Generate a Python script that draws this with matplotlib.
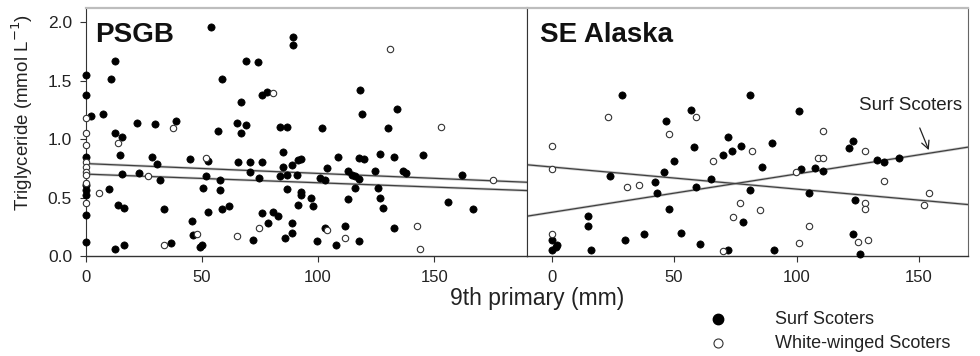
import matplotlib
matplotlib.use("Agg")
import matplotlib.pyplot as plt
from matplotlib.lines import Line2D
import numpy as np

plt.rcParams['font.family'] = ['Liberation Sans', 'DejaVu Sans']

# ---------------- data ----------------
# PSGB panel
psgb_surf_x = [0, 0, 0, 0, 0, 0, 0, 0,
               2, 7.4, 10.7, 12.5, 12.5, 15.4, 14.7, 15.4, 10, 13.6, 16.5, 12.5, 16.5,
               22, 29.7, 38.8, 23, 28.6, 30.7, 32, 33.7, 36.5,
               44.8, 52.6, 51.7, 50.4, 57.8, 57.8, 52.6, 58.7, 61.6, 45.6, 46, 49, 50,
               54, 58.7, 57, 65, 69, 66.7, 66.7, 69, 74, 76, 78,
               65.5, 70.7, 70.7, 75.8, 74.6, 75.8, 72, 78.4, 80.6, 82.8,
               83.6, 86.5, 89, 89,
               85, 85, 83.6, 86.6, 90.9, 88.8, 91.4, 92.7, 86.6, 92.7, 92.7, 91.4, 88.8, 88.8, 85.8,
               101.7, 118, 119, 134, 130,
               108.6, 117.7, 119.8, 126.7, 132.8, 145, 103.8, 112.9, 114.6, 116, 117.7, 124.6,
               136.6, 138, 100.9, 103, 162,
               97, 98, 116, 125.9, 112.9, 126.7, 128, 156, 166.8, 103, 111.6, 99.6, 107.8, 117.7, 132.8]
psgb_surf_y = [1.55, 1.38, 0.85, 0.61, 0.56, 0.52, 0.35, 0.12,
               1.20, 1.21, 1.51, 1.67, 1.05, 1.02, 0.86, 0.70, 0.57, 0.44, 0.41, 0.06, 0.09,
               1.14, 1.13, 1.15, 0.71, 0.85, 0.79, 0.65, 0.40, 0.11,
               0.83, 0.81, 0.68, 0.58, 0.65, 0.56, 0.38, 0.40, 0.43, 0.30, 0.18, 0.08, 0.09,
               1.96, 1.51, 1.07, 1.14, 1.12, 1.05, 1.32, 1.67, 1.66, 1.38, 1.40,
               0.80, 0.80, 0.72, 0.80, 0.67, 0.37, 0.14, 0.28, 0.38, 0.34,
               1.10, 1.10, 1.87, 1.80,
               0.89, 0.76, 0.68, 0.69, 0.69, 0.78, 0.82, 0.83, 0.57, 0.55, 0.52, 0.44, 0.28, 0.20, 0.15,
               1.09, 1.42, 1.21, 1.26, 1.09,
               0.85, 0.84, 0.83, 0.87, 0.85, 0.86, 0.75, 0.73, 0.69, 0.68, 0.66, 0.73,
               0.73, 0.71, 0.67, 0.65, 0.69,
               0.50, 0.43, 0.58, 0.58, 0.49, 0.50, 0.41, 0.46, 0.40, 0.24, 0.26, 0.13, 0.09, 0.13, 0.24]

psgb_ww_x = [0, 0, 0, 0, 0, 0, 0, 0, 0,
             5.6, 13.6, 26.7, 33.7, 37.5, 51.7, 47.8, 65, 74.6, 80.7,
             103.8, 111.6, 131, 142.7, 144, 153, 175.4]
psgb_ww_y = [1.18, 1.05, 0.95, 0.80, 0.76, 0.72, 0.69, 0.62, 0.45,
             0.54, 0.97, 0.68, 0.09, 1.09, 0.84, 0.19, 0.17, 0.24, 1.39,
             0.22, 0.15, 1.77, 0.26, 0.06, 1.10, 0.65]

# SE Alaska panel
sea_surf_x = [28.9, 81.1, 101, 57, 46.9, 72, 77.2, 73.8, 70, 58.2, 90, 50, 45.9, 85.9,
              24, 65, 42.1, 59.1, 43.1, 81.1, 105, 48, 78.1, 15, 15, 29.9, 37.8, 52.7,
              60.7, 72, 90.8, 16, 0, 0, 1.8, 2.3, 101.9, 107.7, 110.7, 121.6, 123,
              132.9, 135.9, 142, 124, 123, 126]
sea_surf_y = [1.38, 1.38, 1.24, 1.25, 1.15, 1.02, 0.94, 0.90, 0.86, 0.93, 0.97, 0.81, 0.72, 0.76,
              0.68, 0.66, 0.63, 0.59, 0.54, 0.56, 0.54, 0.40, 0.29, 0.34, 0.26, 0.14, 0.19, 0.20,
              0.10, 0.05, 0.05, 0.05, 0.14, 0.05, 0.08, 0.09, 0.74, 0.75, 0.73, 0.92, 0.98,
              0.82, 0.80, 0.84, 0.48, 0.19, 0.02]

sea_ww_x = [0, 0, 0, 23.1, 59.1, 48, 30.8, 35.7, 65.9, 81.9, 77, 84.9, 74, 70,
            99.9, 108.7, 110.7, 110.7, 105, 101, 128, 135.9, 128, 128, 125, 129, 152, 154]
sea_ww_y = [0.94, 0.74, 0.19, 1.19, 1.19, 1.04, 0.59, 0.61, 0.81, 0.90, 0.45, 0.39, 0.33, 0.04,
            0.72, 0.84, 0.84, 1.07, 0.26, 0.11, 0.90, 0.64, 0.45, 0.40, 0.12, 0.14, 0.44, 0.54]

# regression lines: (intercept, slope)
psgb_fits = [(0.79, -0.00084), (0.70, -0.00074)]
sea_surf_fit = (0.373, 0.00328)
sea_ww_fit = (0.761, -0.00189)

panel_titles = ["PSGB", "SE Alaska"]
x_ticks = [0, 50, 100, 150]
y_ticks = [0.0, 0.5, 1.0, 1.5, 2.0]
legend_labels = ["Surf Scoters", "White-winged Scoters"]

# ---------------- figure ----------------
W, H = 980, 356
fig = plt.figure(figsize=(W / 100, H / 100), dpi=100)
ax1 = fig.add_axes([86 / W, 100 / H, 441 / W, 248 / H])
ax2 = fig.add_axes([527 / W, 100 / H, 441 / W, 248 / H])

ax1.set_xlim(0, 190)
ax2.set_xlim(-10, 170)
for ax in (ax1, ax2):
    ax.set_ylim(0, 2.12)

ms = 5.2
filled_kw = dict(marker='o', s=ms ** 2, color='black', edgecolors='black', linewidths=0.5,
                 zorder=3, clip_on=False)
open_kw = dict(marker='o', s=(ms - 0.6) ** 2, facecolors='white', edgecolors='#333333',
               linewidths=0.8, zorder=4, clip_on=False)

ax1.scatter(psgb_surf_x, psgb_surf_y, **filled_kw)
ax1.scatter(psgb_ww_x, psgb_ww_y, **open_kw)
ax2.scatter(sea_surf_x, sea_surf_y, **filled_kw)
ax2.scatter(sea_ww_x, sea_ww_y, **open_kw)

def draw_fit(ax, fit, x0, x1):
    xs = np.array([x0, x1])
    ys = fit[0] + fit[1] * xs
    ax.plot(xs, ys, color='#cfcfcf', lw=2.0, zorder=2, solid_capstyle='butt')
    ax.plot(xs, ys, color='#404040', lw=0.9, zorder=2.1)

for f in psgb_fits:
    draw_fit(ax1, f, 0, 190)
draw_fit(ax2, sea_surf_fit, -10, 170)
draw_fit(ax2, sea_ww_fit, -10, 170)

# spines / ticks
for ax in (ax1, ax2):
    ax.spines['top'].set_color('#bdbdbd')
    ax.spines['top'].set_linewidth(1.6)
    ax.spines['bottom'].set_color('#333333')
    ax.spines['bottom'].set_linewidth(1.0)
    ax.set_xticks(x_ticks)
    ax.tick_params(axis='x', direction='out', length=4, width=0.8, colors='#333333',
                   labelsize=12, labelcolor='#222222', pad=6)
ax1.spines['left'].set_color('#333333')
ax1.spines['right'].set_color('#333333')
ax2.spines['left'].set_color('#333333')
ax2.spines['right'].set_color('#666666')

ax1.set_yticks(y_ticks)
ax1.set_yticklabels([f"{v:.1f}" for v in y_ticks])
ax1.tick_params(axis='y', direction='out', length=4, width=0.8, colors='#333333',
                labelsize=12.5, labelcolor='#222222', pad=6)
ax2.set_yticks([])

fig.text(22 / W, 1 - 112 / H, "Triglyceride (mmol L$^{-1}$)", rotation=90,
         ha='center', va='center', fontsize=13.5, color='#222222')

ax1.text(0.02, 0.945, panel_titles[0], transform=ax1.transAxes, fontsize=20,
         fontweight='bold', va='top', ha='left', color='#111111')
ax2.text(0.03, 0.945, panel_titles[1], transform=ax2.transAxes, fontsize=20,
         fontweight='bold', va='top', ha='left', color='#111111')

ax2.annotate("Surf Scoters", xy=(154, 0.905), xytext=(146.5, 1.29),
             ha='center', va='center', fontsize=13.5, color='#222222',
             arrowprops=dict(arrowstyle='->', color='#222222', lw=0.9,
                             shrinkA=9, shrinkB=0, mutation_scale=14))

fig.text(537 / W, 1 - 298 / H, "9th primary (mm)", ha='center', va='center',
         fontsize=16.5, color='#222222')

# legend (placed manually)
leg_marker_x = 718 / W
leg_text_x = 775 / W
leg_rows_y = [1 - 319 / H, 1 - 343 / H]
fig.add_artist(Line2D([leg_marker_x], [leg_rows_y[0]], transform=fig.transFigure,
                      marker='o', ls='none', color='black', markersize=7.5))
fig.add_artist(Line2D([leg_marker_x], [leg_rows_y[1]], transform=fig.transFigure,
                      marker='o', ls='none', markerfacecolor='white',
                      markeredgecolor='#333333', markersize=6.5, markeredgewidth=0.8))
for lab, yy in zip(legend_labels, leg_rows_y):
    fig.text(leg_text_x, yy, lab, ha='left', va='center', fontsize=13, color='#222222')

fig.savefig("out.png", dpi=100)
